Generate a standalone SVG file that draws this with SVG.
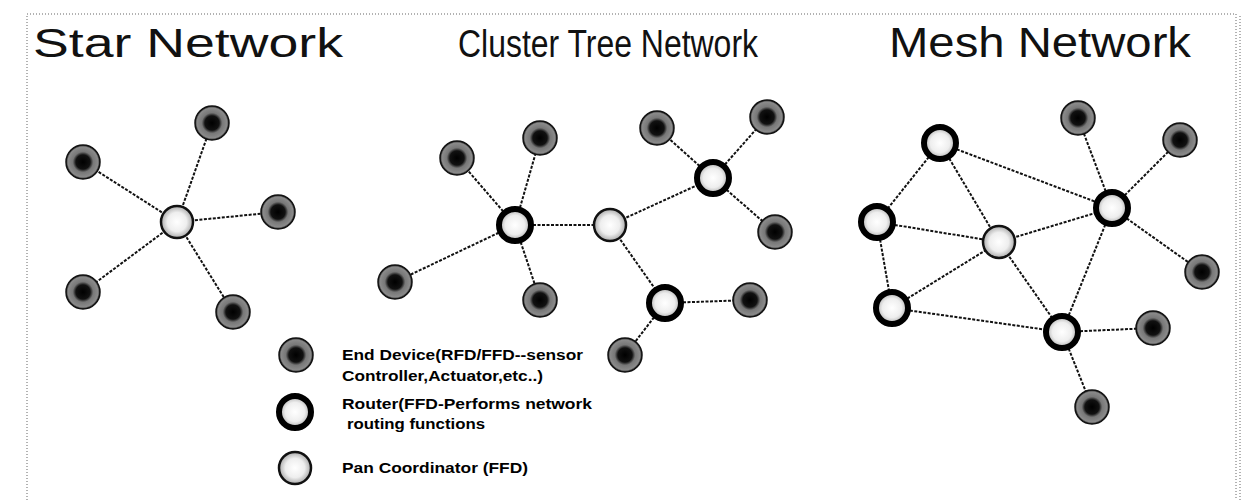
<svg xmlns="http://www.w3.org/2000/svg" width="1247" height="500" viewBox="0 0 1247 500">
<defs>
<radialGradient id="gEnd" cx="50%" cy="50%" r="50%">
<stop offset="0" stop-color="#000"/>
<stop offset="0.42" stop-color="#111"/>
<stop offset="0.6" stop-color="#777"/>
<stop offset="0.88" stop-color="#8a8a8a"/>
<stop offset="1" stop-color="#222"/>
</radialGradient>
<radialGradient id="gIn" cx="50%" cy="50%" r="50%">
<stop offset="0" stop-color="#fff"/>
<stop offset="0.6" stop-color="#eee"/>
<stop offset="1" stop-color="#aaa"/>
</radialGradient>
<g id="end"><circle r="17" fill="url(#gEnd)" stroke="#111" stroke-width="1.5"/></g>
<g id="router"><circle r="16" fill="url(#gIn)" stroke="#000" stroke-width="6"/></g>
<g id="coord"><circle r="16" fill="url(#gIn)" stroke="#111" stroke-width="2.5"/></g>
</defs>
<style>
.title{font-family:"Liberation Sans",Arial,sans-serif;fill:#111}
.leg{font-family:"Liberation Sans",Arial,sans-serif;font-weight:bold;font-size:14px;fill:#000}
.edge{stroke:#111;stroke-width:2;stroke-dasharray:3 1.5;fill:none}
.border{stroke:#999;stroke-width:1.5;stroke-dasharray:1 2;fill:none}
</style>
<rect width="1247" height="500" fill="#fff"/>
<path class="border" d="M27,500 V14 H1236 V500"/>
<path class="border" d="M1240,16 V500"/>
<g id="titles">
<text class="title" x="33" y="57" font-size="40" textLength="310" lengthAdjust="spacingAndGlyphs">Star Network</text>
<text class="title" x="458" y="57" font-size="38" textLength="300" lengthAdjust="spacingAndGlyphs">Cluster Tree Network</text>
<text class="title" x="889" y="57" font-size="42" textLength="302" lengthAdjust="spacingAndGlyphs">Mesh Network</text>
</g>
<g id="connectors">
<path class="edge" d="M177,222 L212,123 M177,222 L83,162 M177,222 L278,212 M177,222 L83,292 M177,222 L233,312"/>
<path class="edge" d="M515,225 L457,158 M515,225 L540,138 M515,225 L395,282 M515,225 L540,300 M515,225 L610,225 M610,225 L713,178 M610,225 L665,303 M713,178 L657,128 M713,178 L767,117 M713,178 L775,232 M665,303 L750,300 M665,303 L625,355"/>
<path class="edge" d="M940,143 L877,222 M940,143 L999,242 M940,143 L1112,208 M877,222 L999,242 M877,222 L892,308 M892,308 L999,242 M892,308 L1062,332 M999,242 L1112,208 M999,242 L1062,332 M1112,208 L1062,332 M1112,208 L1078,118 M1112,208 L1180,140 M1112,208 L1202,272 M1062,332 L1153,328 M1062,332 L1092,407"/>
</g>
<g id="star">
<use href="#coord" x="177" y="222"/>
<use href="#end" x="212" y="123"/>
<use href="#end" x="83" y="162"/>
<use href="#end" x="278" y="212"/>
<use href="#end" x="83" y="292"/>
<use href="#end" x="233" y="312"/>
</g>
<g id="cluster">
<use href="#router" x="515" y="225"/>
<use href="#coord" x="610" y="225"/>
<use href="#router" x="713" y="178"/>
<use href="#router" x="665" y="303"/>
<use href="#end" x="457" y="158"/>
<use href="#end" x="540" y="138"/>
<use href="#end" x="395" y="282"/>
<use href="#end" x="540" y="300"/>
<use href="#end" x="657" y="128"/>
<use href="#end" x="767" y="117"/>
<use href="#end" x="775" y="232"/>
<use href="#end" x="750" y="300"/>
<use href="#end" x="625" y="355"/>
</g>
<g id="mesh">
<use href="#router" x="940" y="143"/>
<use href="#router" x="877" y="222"/>
<use href="#router" x="892" y="308"/>
<use href="#coord" x="999" y="242"/>
<use href="#router" x="1112" y="208"/>
<use href="#router" x="1062" y="332"/>
<use href="#end" x="1078" y="118"/>
<use href="#end" x="1180" y="140"/>
<use href="#end" x="1202" y="272"/>
<use href="#end" x="1153" y="328"/>
<use href="#end" x="1092" y="407"/>
</g>
<g id="legend">
<use href="#end" x="296" y="355"/>
<use href="#router" x="295" y="412"/>
<use href="#coord" x="295" y="468"/>
<text class="leg" x="342" y="360" textLength="241" lengthAdjust="spacingAndGlyphs">End Device(RFD/FFD--sensor</text>
<text class="leg" x="342" y="381" textLength="201" lengthAdjust="spacingAndGlyphs">Controller,Actuator,etc..)</text>
<text class="leg" x="342" y="409" textLength="250" lengthAdjust="spacingAndGlyphs">Router(FFD-Performs network</text>
<text class="leg" x="347" y="429" textLength="138" lengthAdjust="spacingAndGlyphs">routing functions</text>
<text class="leg" x="342" y="473" textLength="186" lengthAdjust="spacingAndGlyphs">Pan Coordinator (FFD)</text>
</g>
</svg>
